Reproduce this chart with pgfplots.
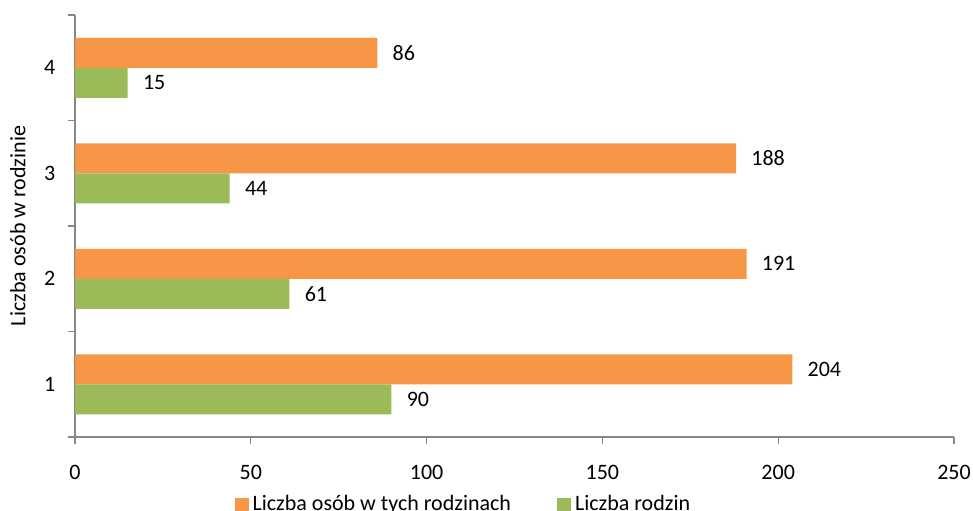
\documentclass[border=0pt]{standalone}
\usepackage{pgfplots}
\pgfplotsset{compat=1.18}
\usetikzlibrary{calc}
\usepackage{fontspec}
\setmainfont{Carlito}
\definecolor{orangebar}{HTML}{F79646}
\definecolor{greenbar}{HTML}{9BBB59}
\definecolor{axisgray}{HTML}{878787}
\pgfplotsset{sqlegend/.style={legend image code/.code={\fill[##1] (0pt,-3.5pt) rectangle (7pt,3.5pt);}}}

\begin{document}
\fontsize{11}{13}\selectfont
\begin{tikzpicture}
\begin{axis}[
    name=ax,
    xbar, bar width=15pt,
    scale only axis, width=439.5pt, height=211pt,
    xmin=0, xmax=250, ymin=0.5, ymax=4.5,
    xtick={0,50,...,250},
    ytick={1,2,3,4},
    minor ytick={0.5,1.5,2.5,3.5,4.5},
    tick align=outside,
    major tick length=3.5pt, minor tick length=3.5pt,
    major y tick style={draw=none},
    minor y tick style={axisgray, line width=0.6pt},
    major x tick style={axisgray, line width=0.6pt},
    axis x line*=bottom, axis y line*=left,
    axis line style={axisgray, line width=0.6pt, -},
    /pgf/number format/assume math mode=true,
    x tick label style={yshift=-6.5pt},
    y tick label style={xshift=-2.5pt},
    ylabel={Liczba osób w rodzinie},
    every axis y label/.style={at={(rel axis cs:-0.065,0.5)}, anchor=center, rotate=90},
    nodes near coords,
    every node near coord/.append style={anchor=west, xshift=3.8pt, black},
    legend columns=2,
    legend style={at={(0.443,-0.16)}, anchor=center, draw=none, fill=none,
        /tikz/every even column/.append style={column sep=21pt}},
]
\addplot[fill=orangebar, draw=none, bar shift=7.5pt, sqlegend]
    coordinates {(204,1) (191,2) (188,3) (86,4)};
\addplot[fill=greenbar, draw=none, bar shift=-7.5pt, sqlegend]
    coordinates {(90,1) (61,2) (44,3) (15,4)};
\legend{Liczba osób w tych rodzinach, Liczba rodzin}
\end{axis}
\pgfresetboundingbox
\path[use as bounding box] ($(ax.south west)+(-37.5pt,-36.5pt)$) rectangle ($(ax.north east)+(9.5pt,7.5pt)$);
\end{tikzpicture}
\end{document}
